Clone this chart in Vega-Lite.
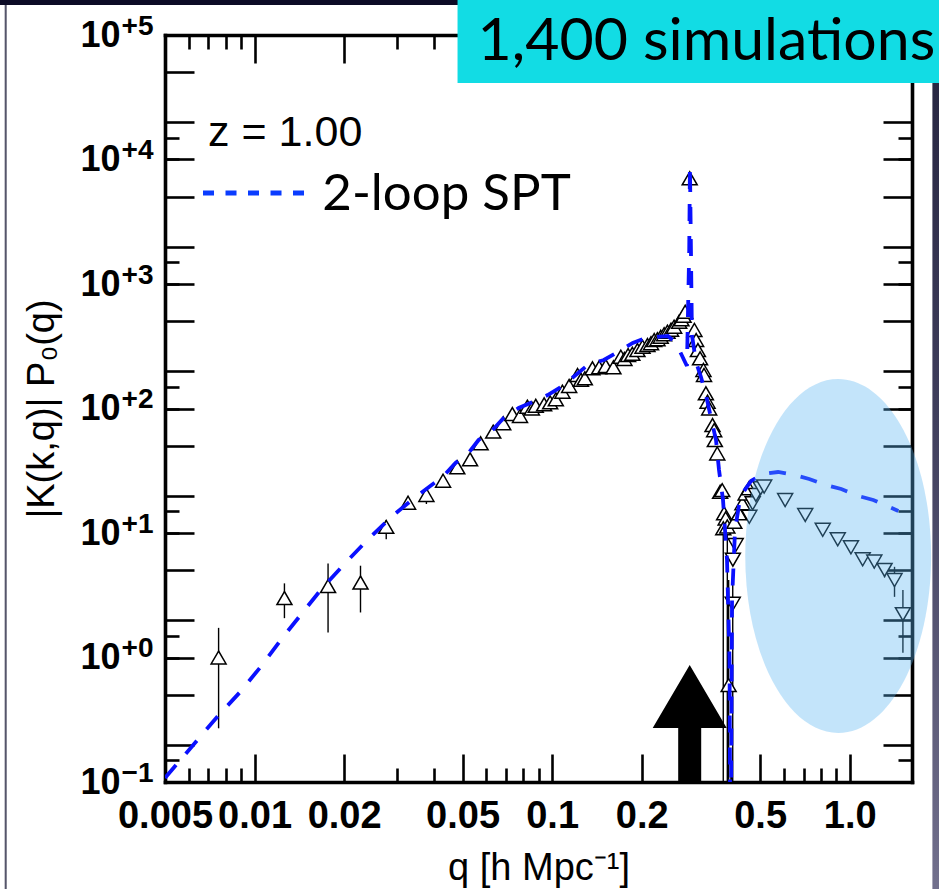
{
  "$schema": "https://vega.github.io/schema/vega-lite/v6.json",
  "width": 747,
  "height": 747,
  "autosize": {"type": "none"},
  "padding": {"left": 165, "top": 35, "right": 27, "bottom": 107},
  "background": "white",
  "config": {
    "view": {"stroke": null},
    "axis": {
      "grid": false,
      "tickColor": "black",
      "tickWidth": 2.6,
      "tickCap": "butt",
      "domainColor": "black",
      "domainWidth": 3.6,
      "domainCap": "square",
      "labelColor": "black",
      "titleColor": "black",
      "labelFont": "Liberation Sans",
      "titleFont": "Liberation Sans",
      "labelFontWeight": "bold",
      "labelOverlap": false,
      "labelFlush": false,
      "labelBound": false
    }
  },
  "datasets": {
    "pts": [
      {"q": 0.00757, "v": 1.0, "lo": 0.27, "hi": 1.73, "s": "pos"},
      {"q": 0.0126, "v": 3.0, "lo": 2.07, "hi": 3.94, "s": "pos"},
      {"q": 0.01766, "v": 3.75, "lo": 1.59, "hi": 5.7, "s": "pos"},
      {"q": 0.0227, "v": 4.0, "lo": 2.3, "hi": 5.46, "s": "pos"},
      {"q": 0.0277, "v": 11.2, "lo": 8.9, "hi": 12.7, "s": "pos"},
      {"q": 0.0328, "v": 17.5, "lo": 15.8, "hi": 18.5, "s": "pos"},
      {"q": 0.0378, "v": 20.2, "lo": 17.1, "hi": 21, "s": "pos"},
      {"q": 0.043, "v": 26.3, "s": "pos"},
      {"q": 0.048, "v": 33.7, "s": "pos"},
      {"q": 0.053, "v": 39.1, "lo": 35.5, "hi": 40, "s": "pos"},
      {"q": 0.0575, "v": 52.5, "s": "pos"},
      {"q": 0.0634, "v": 65.2, "s": "pos"},
      {"q": 0.0685, "v": 76, "s": "pos"},
      {"q": 0.0735, "v": 90.3, "s": "pos"},
      {"q": 0.078, "v": 87.1, "s": "pos"},
      {"q": 0.0826, "v": 103.5, "s": "pos"},
      {"q": 0.0855, "v": 100, "s": "pos"},
      {"q": 0.0881, "v": 105, "s": "pos"},
      {"q": 0.094, "v": 108, "s": "pos"},
      {"q": 0.0985, "v": 112, "s": "pos"},
      {"q": 0.1029, "v": 118.6, "s": "pos"},
      {"q": 0.1083, "v": 136.5, "s": "pos"},
      {"q": 0.1141, "v": 151.7, "s": "pos"},
      {"q": 0.1217, "v": 185.8, "s": "pos"},
      {"q": 0.125, "v": 170, "s": "pos"},
      {"q": 0.1288, "v": 174.8, "s": "pos"},
      {"q": 0.1366, "v": 210.5, "s": "pos"},
      {"q": 0.1439, "v": 214, "s": "pos"},
      {"q": 0.1515, "v": 219, "s": "pos"},
      {"q": 0.1607, "v": 214, "s": "pos"},
      {"q": 0.1702, "v": 260.8, "s": "pos"},
      {"q": 0.175, "v": 250, "s": "pos"},
      {"q": 0.18, "v": 269, "s": "pos"},
      {"q": 0.186, "v": 275, "s": "pos"},
      {"q": 0.1935, "v": 295, "s": "pos"},
      {"q": 0.2013, "v": 313.6, "s": "pos"},
      {"q": 0.2091, "v": 323, "s": "pos"},
      {"q": 0.215, "v": 335, "s": "pos"},
      {"q": 0.2203, "v": 354.6, "s": "pos"},
      {"q": 0.226, "v": 360, "s": "pos"},
      {"q": 0.2317, "v": 377, "s": "pos"},
      {"q": 0.238, "v": 395, "s": "pos"},
      {"q": 0.2442, "v": 414, "s": "pos"},
      {"q": 0.251, "v": 430, "s": "pos"},
      {"q": 0.2571, "v": 454, "s": "pos"},
      {"q": 0.2673, "v": 498, "s": "pos"},
      {"q": 0.272, "v": 520, "s": "pos"},
      {"q": 0.2765, "v": 555, "s": "pos"},
      {"q": 0.28, "v": 598, "s": "pos"},
      {"q": 0.29, "v": 7060, "s": "pos"},
      {"q": 0.3008, "v": 428, "s": "pos"},
      {"q": 0.3048, "v": 355, "s": "pos"},
      {"q": 0.309, "v": 295, "s": "pos"},
      {"q": 0.3142, "v": 253, "s": "pos"},
      {"q": 0.3226, "v": 204, "s": "pos"},
      {"q": 0.324, "v": 186, "s": "pos"},
      {"q": 0.3287, "v": 132.4, "s": "pos"},
      {"q": 0.333, "v": 113.5, "s": "pos"},
      {"q": 0.3372, "v": 100, "s": "pos"},
      {"q": 0.346, "v": 73.6, "s": "pos"},
      {"q": 0.3505, "v": 67, "s": "pos"},
      {"q": 0.3523, "v": 55.8, "s": "pos"},
      {"q": 0.359, "v": 43.6, "s": "pos"},
      {"q": 0.367, "v": 21.4, "s": "pos"},
      {"q": 0.373, "v": 22.1, "s": "pos"},
      {"q": 0.3785, "v": 14.4, "lo": 11, "hi": 17, "s": "pos"},
      {"q": 0.383, "v": 13.1, "lo": 10, "hi": 15, "s": "pos"},
      {"q": 0.376, "v": 10.9, "lo": 0.01, "hi": 12.5, "s": "pos"},
      {"q": 0.388, "v": 11.3, "lo": 0.01, "hi": 13, "s": "pos"},
      {"q": 0.392, "v": 0.6, "lo": 0.01, "hi": 4.2, "s": "pos"},
      {"q": 0.4095, "v": 12.3, "s": "pos"},
      {"q": 0.425, "v": 14.4, "s": "pos"},
      {"q": 0.436, "v": 17.3, "s": "pos"},
      {"q": 0.447, "v": 20.8, "s": "pos"},
      {"q": 0.459, "v": 22.9, "s": "pos"},
      {"q": 0.414, "v": 8.0, "s": "neg"},
      {"q": 0.405, "v": 6.1, "s": "neg"},
      {"q": 0.4046, "v": 2.7, "lo": 0.01, "hi": 4.5, "s": "neg"},
      {"q": 0.46, "v": 13.5, "s": "neg"},
      {"q": 0.472, "v": 17.3, "s": "neg"},
      {"q": 0.484, "v": 20.2, "s": "neg"},
      {"q": 0.502, "v": 22.9, "s": "neg"},
      {"q": 0.516, "v": 23.6, "s": "neg"},
      {"q": 0.607, "v": 18.4, "s": "neg"},
      {"q": 0.709, "v": 13.95, "s": "neg"},
      {"q": 0.812, "v": 10.6, "s": "neg"},
      {"q": 0.912, "v": 8.9, "s": "neg"},
      {"q": 1.01, "v": 7.67, "s": "neg"},
      {"q": 1.106, "v": 6.15, "lo": 5.5, "hi": 6.8, "s": "neg"},
      {"q": 1.21, "v": 5.9, "lo": 5.2, "hi": 6.6, "s": "neg"},
      {"q": 1.31, "v": 5.05, "lo": 4.4, "hi": 5.7, "s": "neg"},
      {"q": 1.415, "v": 4.19, "lo": 3.07, "hi": 5.35, "s": "neg"},
      {"q": 1.51, "v": 2.23, "lo": 1.09, "hi": 3.48, "s": "neg"}
    ],
    "spt": [
      {"q": 0.005, "v": 0.1077}, {"q": 0.007481, "v": 0.3327}, {"q": 0.008943, "v": 0.5284},
      {"q": 0.010606, "v": 0.8706}, {"q": 0.012386, "v": 1.434}, {"q": 0.014463, "v": 2.278},
      {"q": 0.016891, "v": 3.615}, {"q": 0.020183, "v": 5.741}, {"q": 0.024125, "v": 8.95},
      {"q": 0.029058, "v": 13.69}, {"q": 0.034728, "v": 19.46}, {"q": 0.042816, "v": 28.17},
      {"q": 0.047358, "v": 36.5}, {"q": 0.052388, "v": 43.91}, {"q": 0.056611, "v": 55.85},
      {"q": 0.063093, "v": 67.2}, {"q": 0.068723, "v": 83.89}, {"q": 0.077183, "v": 100.9},
      {"q": 0.086032, "v": 112.8}, {"q": 0.096643, "v": 128.3}, {"q": 0.10692, "v": 148.8},
      {"q": 0.12008, "v": 185.8}, {"q": 0.13179, "v": 223.6}, {"q": 0.14919, "v": 245.2},
      {"q": 0.16629, "v": 284.3}, {"q": 0.18668, "v": 335.9}, {"q": 0.20648, "v": 368.4},
      {"q": 0.24494, "v": 382.2}, {"q": 0.26069, "v": 335.9}, {"q": 0.28386, "v": 219.5},
      {"q": 0.28896, "v": 1876}, {"q": 0.29054, "v": 8867}, {"q": 0.2928, "v": 1876},
      {"q": 0.29508, "v": 389.4}, {"q": 0.30437, "v": 236.3}, {"q": 0.31646, "v": 179.1},
      {"q": 0.32897, "v": 128.3}, {"q": 0.34198, "v": 83.89}, {"q": 0.3555, "v": 55.85},
      {"q": 0.36386, "v": 32.06}, {"q": 0.37532, "v": 18.41}, {"q": 0.38712, "v": 6.07},
      {"q": 0.39471, "v": 0.955}, {"q": 0.39777, "v": 0.01}, {"q": 0.40242, "v": 2.896},
      {"q": 0.41188, "v": 10.57}, {"q": 0.42484, "v": 16.79}, {"q": 0.44164, "v": 21.75},
      {"q": 0.46623, "v": 26.17}, {"q": 0.51178, "v": 29.78}, {"q": 0.57468, "v": 30.9},
      {"q": 0.65066, "v": 29.24}, {"q": 0.73104, "v": 27.14}, {"q": 0.83402, "v": 24.29},
      {"q": 0.93694, "v": 22.56}, {"q": 1.0689, "v": 19.83}, {"q": 1.2005, "v": 18.41},
      {"q": 1.4576, "v": 15.02}
    ]
  },
  "layer": [
    {
      "data": {"values": [{"q": 0.001, "q2": 5, "v": 174000, "v2": 10000000}]},
      "mark": {"type": "rect", "color": "#0c0b26"},
      "encoding": {
        "x": {"field": "q", "type": "quantitative", "scale": {"type": "log", "domain": [0.005, 1.62], "nice": false},
          "axis": {"orient": "bottom", "values": [0.005, 0.01, 0.02, 0.05, 0.1, 0.2, 0.5, 1],
            "tickSize": -28, "labelPadding": 43, "labelFontSize": 38,
            "labelExpr": "datum.value >= 1 ? '1.0' : format(datum.value, '~g')",
            "title": "q [h Mpc⁻¹]", "titleFontSize": 38, "titleFontWeight": "normal",
            "titleX": 373.5, "titleY": 97, "titleBaseline": "alphabetic", "titleAlign": "center"}},
        "x2": {"field": "q2"},
        "y": {"field": "v", "type": "quantitative", "scale": {"type": "log", "domain": [0.1, 100000], "nice": false},
          "axis": {"orient": "left",
            "values": [0.1, 0.2, 0.5, 1, 2, 5, 10, 20, 50, 100, 200, 500, 1000, 2000, 5000, 10000, 20000, 50000, 100000],
            "tickSize": -29, "labelPadding": 74, "labelFontSize": 36,
            "labelExpr": "abs(log(datum.value)/LN10 - round(log(datum.value)/LN10)) < 0.01 ? '10' : ''",
            "title": "|K(k,q)| P₀(q)", "titleFontSize": 38, "titleFontWeight": "normal",
            "titleAngle": 270, "titleX": -112, "titleY": 373.5, "titleBaseline": "alphabetic", "titleAlign": "center"}},
        "y2": {"field": "v2"}
      }
    },
    {
      "data": {"values": [{"q": 1.897, "q2": 5, "v": 0.001, "v2": 10000000}]},
      "mark": {"type": "rect", "color": {"gradient": "linear", "x1": 0, "y1": 0, "x2": 0, "y2": 1,
        "stops": [{"offset": 0.17, "color": "#22213c"}, {"offset": 0.5, "color": "#3f3e5c"}, {"offset": 0.88, "color": "#716f8c"}]}},
      "encoding": {
        "x": {"field": "q", "type": "quantitative", "scale": {"type": "log", "domain": [0.005, 1.62], "nice": false},
          "axis": {"orient": "bottom",
            "values": [0.006, 0.007, 0.008, 0.009, 0.03, 0.04, 0.06, 0.07, 0.08, 0.09, 0.3, 0.4, 0.6, 0.7, 0.8, 0.9],
            "tickSize": -14, "domain": false, "labels": false, "title": null}},
        "x2": {"field": "q2"},
        "y": {"field": "v", "type": "quantitative", "scale": {"type": "log", "domain": [0.1, 100000], "nice": false},
          "axis": {"orient": "left",
            "values": [0.1, 0.15, 1, 1.5, 10, 15, 100, 150, 1000, 1500, 10000, 15000, 100000],
            "tickSize": -14, "domain": false, "labelPadding": 26, "labelFontSize": 28, "labelOffset": -9,
            "labelExpr": "abs(log(datum.value)/LN10 - round(log(datum.value)/LN10)) < 0.01 ? ((round(log(datum.value)/LN10) < 0 ? '−' : '+') + abs(round(log(datum.value)/LN10))) : ''",
            "title": null}},
        "y2": {"field": "v2"}
      }
    },
    {
      "data": {"values": [{"q": 0.001446, "q2": 0.001469, "v": 0.001, "v2": 174000}]},
      "mark": {"type": "rect", "color": "#55556a"},
      "encoding": {
        "x": {"field": "q", "type": "quantitative", "scale": {"type": "log", "domain": [0.005, 1.62], "nice": false},
          "axis": {"orient": "top", "values": [0.005, 0.01, 0.02, 0.05, 0.1, 0.2, 0.5, 1],
            "tickSize": -28, "labels": false, "title": null}},
        "x2": {"field": "q2"},
        "y": {"field": "v", "type": "quantitative", "scale": {"type": "log", "domain": [0.1, 100000], "nice": false},
          "axis": {"orient": "right",
            "values": [0.1, 0.2, 0.5, 1, 2, 5, 10, 20, 50, 100, 200, 500, 1000, 2000, 5000, 10000, 20000, 50000, 100000],
            "tickSize": -29, "labels": false, "title": null}},
        "y2": {"field": "v2"}
      }
    },
    {
      "data": {"name": "pts"},
      "transform": [{"filter": "isValid(datum.lo)"}],
      "mark": {"type": "rule", "color": "black", "strokeWidth": 1.4, "clip": true},
      "encoding": {
        "x": {"field": "q", "type": "quantitative", "scale": {"type": "log", "domain": [0.005, 1.62], "nice": false}, "axis": null},
        "y": {"field": "lo", "type": "quantitative", "scale": {"type": "log", "domain": [0.1, 100000], "nice": false}, "axis": null},
        "y2": {"field": "hi"}
      }
    },
    {
      "data": {"name": "pts"},
      "mark": {"type": "point", "filled": true, "fill": "white", "stroke": "black", "strokeWidth": 1.5, "opacity": 1, "size": 225},
      "encoding": {
        "x": {"field": "q", "type": "quantitative", "scale": {"type": "log", "domain": [0.005, 1.62], "nice": false},
          "axis": {"orient": "top",
            "values": [0.006, 0.007, 0.008, 0.009, 0.03, 0.04, 0.06, 0.07, 0.08, 0.09, 0.3, 0.4, 0.6, 0.7, 0.8, 0.9],
            "tickSize": -14, "domain": false, "labels": false, "title": null}},
        "y": {"field": "v", "type": "quantitative", "scale": {"type": "log", "domain": [0.1, 100000], "nice": false},
          "axis": {"orient": "right",
            "values": [0.1, 0.15, 1, 1.5, 10, 15, 100, 150, 1000, 1500, 10000, 15000, 100000],
            "tickSize": -14, "domain": false, "labels": false, "title": null}},
        "shape": {"field": "s", "type": "nominal", "scale": {"domain": ["pos", "neg"], "range": ["triangle-up", "triangle-down"]}, "legend": null}
      }
    },
    {
      "data": {"name": "spt"},
      "mark": {"type": "line", "color": "#0a10ff", "strokeWidth": 3.8, "strokeDash": [17, 15], "clip": true},
      "encoding": {
        "x": {"field": "q", "type": "quantitative", "scale": {"type": "log", "domain": [0.005, 1.62], "nice": false}, "axis": null},
        "y": {"field": "v", "type": "quantitative", "scale": {"type": "log", "domain": [0.1, 100000], "nice": false}, "axis": null}
      }
    },
    {
      "data": {"values": [{"q": 0.915, "v": 6.54}]},
      "mark": {"type": "point", "shape": "M-0.525,0A0.525,1,0,1,0,0.525,0A0.525,1,0,1,0,-0.525,0Z",
        "size": 125316, "filled": true, "fill": "#5ab4f0", "fillOpacity": 0.36, "opacity": 1, "strokeWidth": 0},
      "encoding": {
        "x": {"field": "q", "type": "quantitative", "scale": {"type": "log", "domain": [0.005, 1.62], "nice": false}, "axis": null},
        "y": {"field": "v", "type": "quantitative", "scale": {"type": "log", "domain": [0.1, 100000], "nice": false}, "axis": null}
      }
    },
    {
      "data": {"values": [{"q": 0.29, "v": 0.295}]},
      "mark": {"type": "point", "shape": "M0,-1.17L0.74,0.09L0.23,0.09L0.23,1.17L-0.23,1.17L-0.23,0.09L-0.74,0.09Z",
        "size": 10000, "filled": true, "fill": "black", "opacity": 1, "strokeWidth": 0},
      "encoding": {
        "x": {"field": "q", "type": "quantitative", "scale": {"type": "log", "domain": [0.005, 1.62], "nice": false}, "axis": null},
        "y": {"field": "v", "type": "quantitative", "scale": {"type": "log", "domain": [0.1, 100000], "nice": false}, "axis": null}
      }
    },
    {
      "data": {"values": [{"q": 0.00698, "v": 12836, "label": "z = 1.00"}]},
      "mark": {"type": "text", "align": "left", "baseline": "alphabetic", "font": "Liberation Sans", "fontWeight": "normal", "fontSize": 43, "color": "black"},
      "encoding": {
        "x": {"field": "q", "type": "quantitative", "scale": {"type": "log", "domain": [0.005, 1.62], "nice": false}, "axis": null},
        "y": {"field": "v", "type": "quantitative", "scale": {"type": "log", "domain": [0.1, 100000], "nice": false}, "axis": null},
        "text": {"field": "label"}
      }
    },
    {
      "data": {"values": [{"q": 0.00671, "q2": 0.01469, "v": 5383}]},
      "mark": {"type": "rule", "color": "#0a3cff", "strokeWidth": 5, "strokeDash": [11, 11.5], "strokeCap": "butt"},
      "encoding": {
        "x": {"field": "q", "type": "quantitative", "scale": {"type": "log", "domain": [0.005, 1.62], "nice": false}, "axis": null},
        "x2": {"field": "q2"},
        "y": {"field": "v", "type": "quantitative", "scale": {"type": "log", "domain": [0.1, 100000], "nice": false}, "axis": null}
      }
    },
    {
      "data": {"values": [{"q": 0.01689, "v": 3930, "label": "2-loop SPT"}]},
      "mark": {"type": "text", "align": "left", "baseline": "alphabetic", "font": "Lato", "fontSize": 51, "color": "black"},
      "encoding": {
        "x": {"field": "q", "type": "quantitative", "scale": {"type": "log", "domain": [0.005, 1.62], "nice": false}, "axis": null},
        "y": {"field": "v", "type": "quantitative", "scale": {"type": "log", "domain": [0.1, 100000], "nice": false}, "axis": null},
        "text": {"field": "label"}
      }
    },
    {
      "data": {"values": [{"q": 0.0481, "q2": 5, "v": 41170, "v2": 10000000}]},
      "mark": {"type": "rect", "color": "#12dce4"},
      "encoding": {
        "x": {"field": "q", "type": "quantitative", "scale": {"type": "log", "domain": [0.005, 1.62], "nice": false}, "axis": null},
        "x2": {"field": "q2"},
        "y": {"field": "v", "type": "quantitative", "scale": {"type": "log", "domain": [0.1, 100000], "nice": false}, "axis": null},
        "y2": {"field": "v2"}
      }
    },
    {
      "data": {"values": [{"q": 0.05617, "v": 62970, "label": "1,400 simulations"}]},
      "mark": {"type": "text", "align": "left", "baseline": "alphabetic", "font": "Lato", "fontSize": 59, "color": "black"},
      "encoding": {
        "x": {"field": "q", "type": "quantitative", "scale": {"type": "log", "domain": [0.005, 1.62], "nice": false}, "axis": null},
        "y": {"field": "v", "type": "quantitative", "scale": {"type": "log", "domain": [0.1, 100000], "nice": false}, "axis": null},
        "text": {"field": "label"}
      }
    }
  ],
  "resolve": {"axis": {"x": "independent", "y": "independent"}}
}
